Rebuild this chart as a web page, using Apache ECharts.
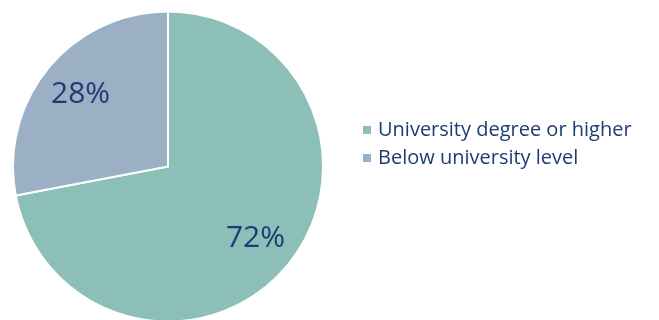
<!DOCTYPE html>
<html>
<head>
<meta charset="utf-8">
<script src="https://cdn.jsdelivr.net/npm/echarts@6/dist/echarts.min.js"></script>
<style>
  html, body { margin: 0; padding: 0; background: #ffffff; }
  #chart { width: 659px; height: 320px; }
</style>
</head>
<body>
<div id="chart"></div>
<script>
// Share of respondents by education level (percent)
const categories = ['University degree or higher', 'Below university level'];
const shares = [72, 28];
const colors = ['#8bbfb8', '#9cb0c5'];

const textColor = '#1f3c72';
const fontFamily = '"Open Sans", "Noto Sans", sans-serif';

const pieData = categories.map((name, i) => ({
  name: name,
  value: shares[i],
  itemStyle: { color: colors[i] }
}));

const chart = echarts.init(document.getElementById('chart'), null, { renderer: 'canvas' });

chart.setOption({
  animation: false,
  backgroundColor: '#ffffff',
  legend: {
    orient: 'vertical',
    left: 356,
    top: 115,
    icon: 'rect',
    itemWidth: 10,
    itemHeight: 10,
    itemGap: 8,
    textStyle: { color: textColor, fontSize: 20, fontFamily: fontFamily, padding: [0, 0, 0, 1] },
    data: categories.map((name, i) => ({ name: name, itemStyle: { color: colors[i] } }))
  },
  series: [
    {
      // filled slices
      type: 'pie',
      center: [168, 166.5],
      radius: 155,
      startAngle: 90,
      clockwise: true,
      label: { show: false },
      labelLine: { show: false },
      itemStyle: { borderColor: '#ffffff', borderWidth: 2 },
      emphasis: { disabled: true },
      data: pieData
    },
    {
      // percentage labels placed within each slice
      type: 'pie',
      center: [168, 166.5],
      radius: [66, 155],
      startAngle: 90,
      clockwise: true,
      silent: true,
      legendHoverLink: false,
      itemStyle: { color: 'rgba(0,0,0,0)', borderWidth: 0 },
      label: {
        show: true,
        position: 'inside',
        formatter: '{c}%',
        color: textColor,
        fontSize: 30,
        fontFamily: fontFamily
      },
      labelLine: { show: false },
      emphasis: { disabled: true },
      data: categories.map((name, i) => ({ name: name, value: shares[i] }))
    }
  ]
});
</script>
</body>
</html>
